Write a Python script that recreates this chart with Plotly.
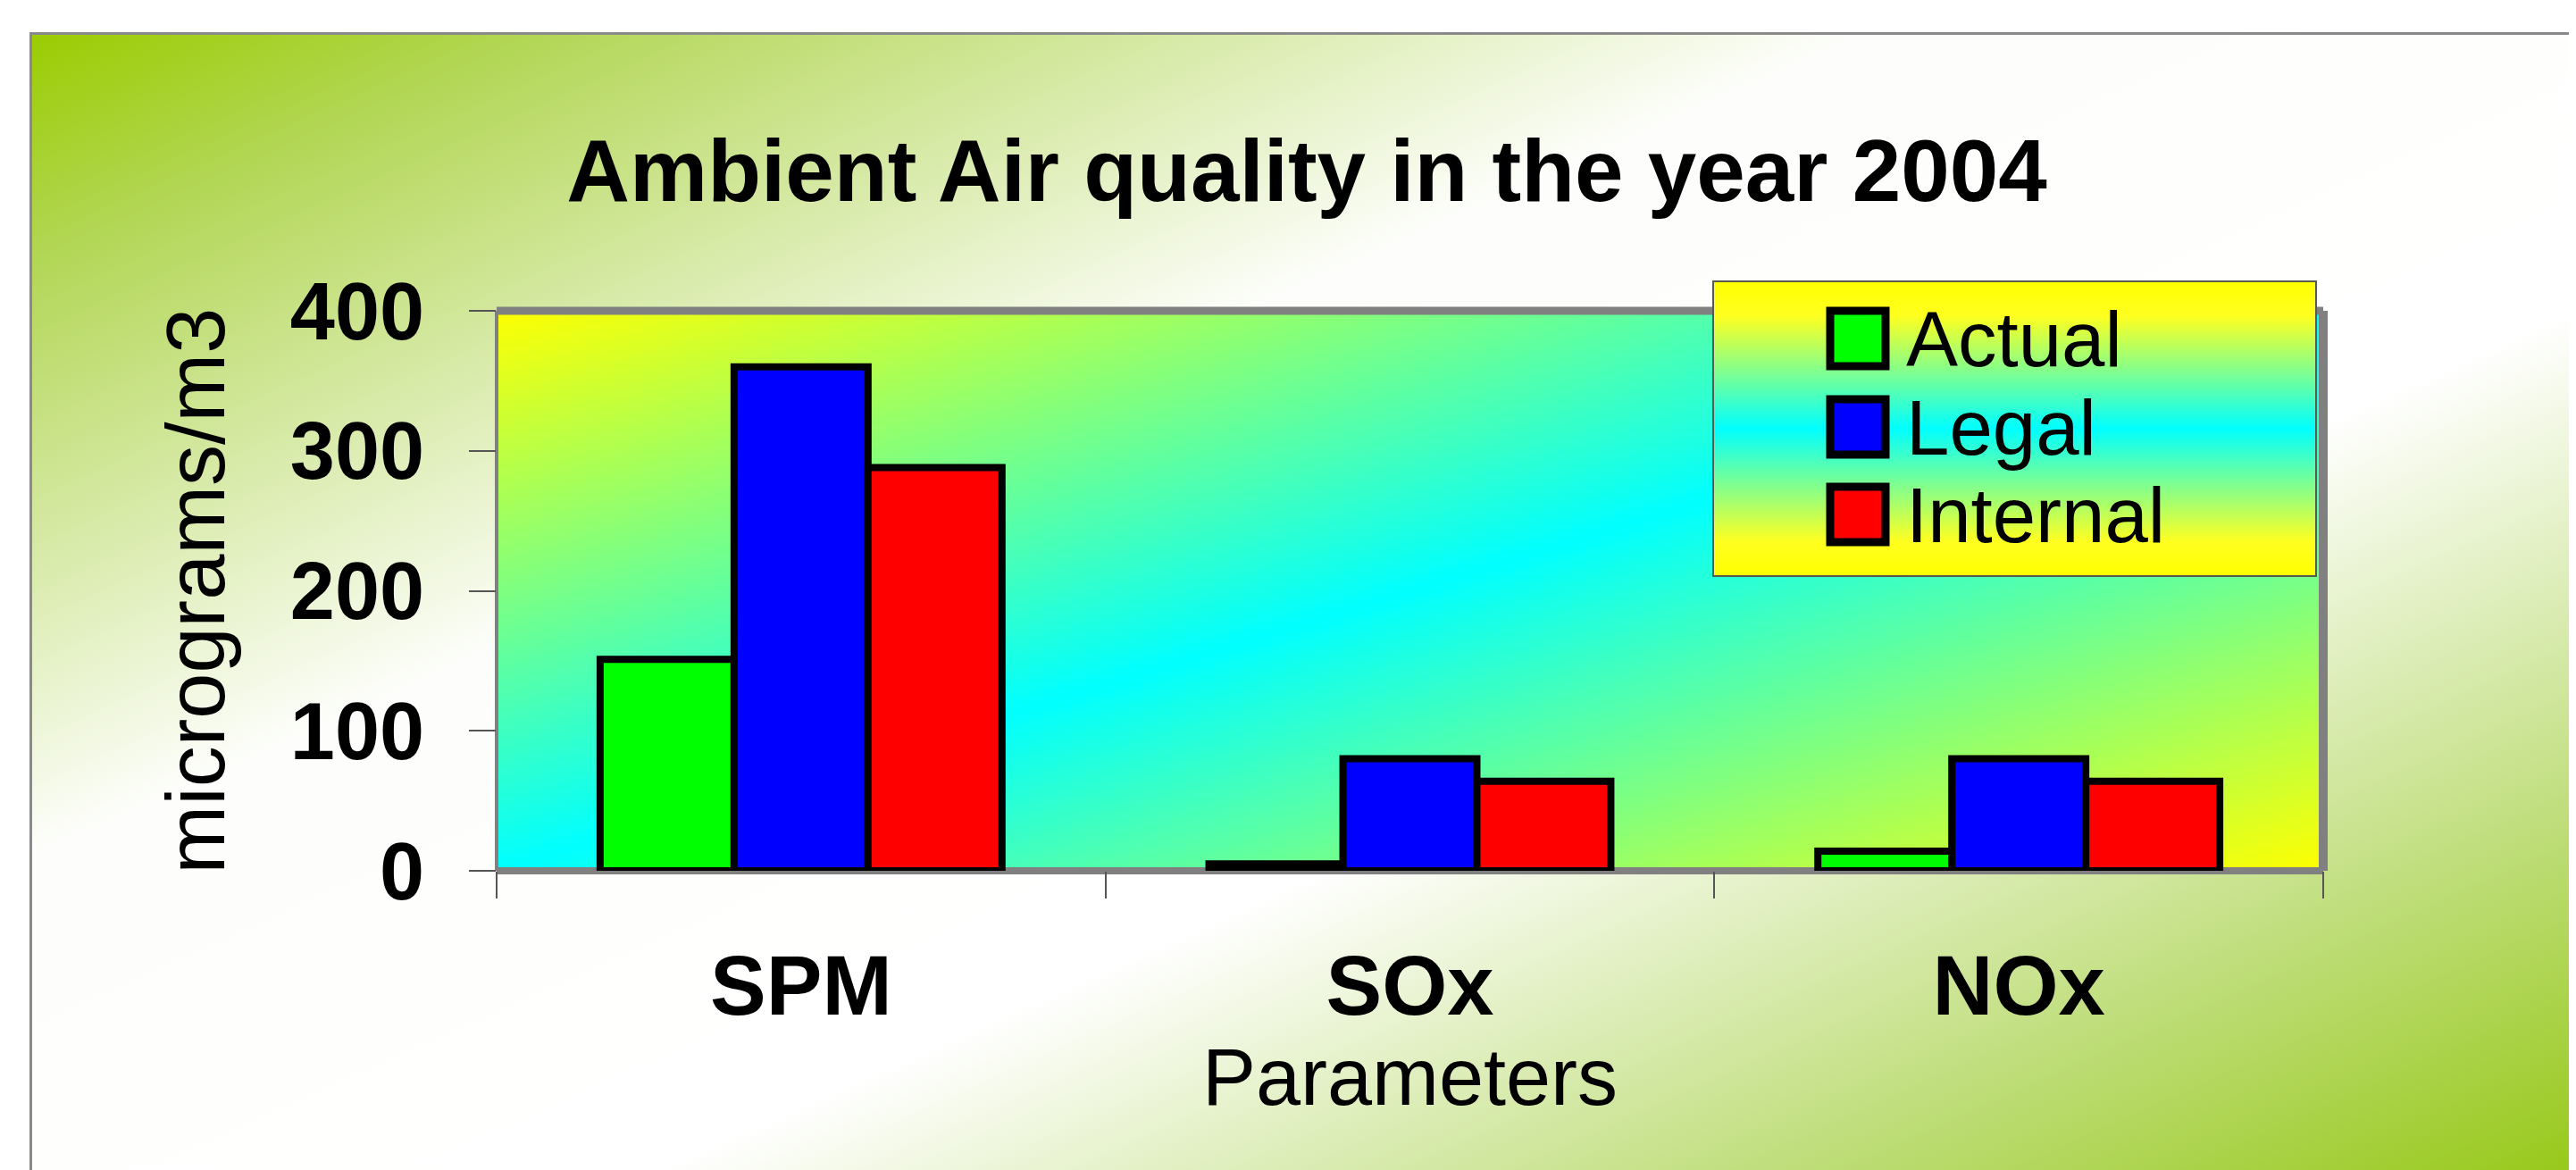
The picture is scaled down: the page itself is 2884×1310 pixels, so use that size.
import base64
import plotly.graph_objects as go

# ---------------- data ----------------
categories = ["SPM", "SOx", "NOx"]
series_names = ["Actual", "Legal", "Internal"]
actual = [151, 5, 14]
legal = [360, 80, 80]
internal = [288, 64, 64]
series_values = [actual, legal, internal]
series_colors = ["#00ff00", "#0000ff", "#ff0000"]
y_ticks = [0, 100, 200, 300, 400]
title_text = "Ambient Air quality in the year 2004"
x_title = "Parameters"
y_title = "micrograms/m3"

# ---------------- geometry (pixels) ----------------
W, H = 2884, 1310
L, R, T, B = 548, 2593, 340, 967  # plot area


def px_x(x):
    return (x - L) / (R - L)


def px_y(y):
    return (B - y) / (B - T)


def svg_uri(svg):
    return "data:image/svg+xml;base64," + base64.b64encode(svg.encode("utf-8")).decode()


FONT = "Arial, Liberation Sans, sans-serif"

# background of slide (frame)
FX0, FY0 = 25, 28
fw, fh = W - FX0, H - FY0
bg_svg = (
    f"<svg xmlns='http://www.w3.org/2000/svg' width='{fw}' height='{fh}' viewBox='0 0 {fw} {fh}' preserveAspectRatio='none'>"
    "<defs><linearGradient id='g' x1='0' y1='0' x2='1' y2='1'>"
    "<stop offset='0' stop-color='#9bcc00'/>"
    "<stop offset='0.1' stop-color='#b2d655'/>"
    "<stop offset='0.36' stop-color='#fdfefb'/>"
    "<stop offset='0.62' stop-color='#ffffff'/>"
    "<stop offset='0.85' stop-color='#bcdc74'/>"
    "<stop offset='1' stop-color='#97c818'/>"
    "</linearGradient></defs>"
    f"<rect x='0' y='0' width='{fw}' height='{fh}' fill='url(#g)'/>"
    f"<path d='M1.5,{fh} V1.5 H{fw}' stroke='#8a8a8a' stroke-width='3' fill='none'/>"
    "</svg>"
)

pw, ph = R - L, B - T
plot_svg = (
    f"<svg xmlns='http://www.w3.org/2000/svg' width='{pw}' height='{ph}' viewBox='0 0 {pw} {ph}' preserveAspectRatio='none'>"
    "<defs><linearGradient id='p' x1='0' y1='0' x2='1' y2='1'>"
    "<stop offset='0' stop-color='#ffff00'/>"
    "<stop offset='0.5' stop-color='#00ffff'/>"
    "<stop offset='1' stop-color='#ffff00'/>"
    "</linearGradient></defs>"
    f"<rect x='0' y='0' width='{pw}' height='{ph}' fill='url(#p)'/>"
    "</svg>"
)

LGX0, LGX1, LGY0, LGY1 = 1909, 2586, 306, 638
lw, lh = LGX1 - LGX0, LGY1 - LGY0
leg_svg = (
    f"<svg xmlns='http://www.w3.org/2000/svg' width='{lw}' height='{lh}' viewBox='0 0 {lw} {lh}' preserveAspectRatio='none'>"
    "<defs><linearGradient id='l' x1='0' y1='0' x2='0' y2='1'>"
    "<stop offset='0' stop-color='#ffff00'/>"
    "<stop offset='0.12' stop-color='#ffff20'/>"
    "<stop offset='0.5' stop-color='#00ffff'/>"
    "<stop offset='0.88' stop-color='#ffff20'/>"
    "<stop offset='1' stop-color='#ffff00'/>"
    "</linearGradient></defs>"
    f"<rect x='0' y='0' width='{lw}' height='{lh}' fill='url(#l)'/>"
    f"<rect x='1' y='1' width='{lw-2}' height='{lh-2}' fill='none' stroke='#5a5a4a' stroke-width='2'/>"
    "</svg>"
)

fig = go.Figure()
for name, vals, col in zip(series_names, series_values, series_colors):
    fig.add_trace(go.Bar(
        x=categories, y=vals, name=name,
        marker=dict(color=col, line=dict(color="black", width=8)),
        showlegend=False,
    ))

images = [
    dict(source=svg_uri(bg_svg), xref="paper", yref="paper",
         x=px_x(FX0), y=px_y(FY0), sizex=fw / pw, sizey=fh / ph,
         xanchor="left", yanchor="top", sizing="stretch", layer="below"),
    dict(source=svg_uri(plot_svg), xref="paper", yref="paper",
         x=0, y=1, sizex=1, sizey=1,
         xanchor="left", yanchor="top", sizing="stretch", layer="below"),
    dict(source=svg_uri(leg_svg), xref="paper", yref="paper",
         x=px_x(LGX0), y=px_y(LGY0), sizex=lw / pw, sizey=lh / ph,
         xanchor="left", yanchor="top", sizing="stretch", layer="above"),
]

border = "#808080"
shapes = [
    dict(type="line", xref="paper", yref="paper", x0=0, x1=1, y0=1, y1=1,
         line=dict(color=border, width=9), layer="below"),
    dict(type="line", xref="paper", yref="paper", x0=1, x1=1, y0=0, y1=1,
         line=dict(color=border, width=10), layer="below"),
    dict(type="line", xref="paper", yref="paper", x0=0, x1=1, y0=0, y1=0,
         line=dict(color=border, width=8), layer="below"),
    dict(type="line", xref="paper", yref="paper", x0=0, x1=0, y0=0, y1=1,
         line=dict(color=border, width=4), layer="below"),
]

# manual legend (swatches + labels)
sw_x0, sw_x1 = 2041, 2103
sw_centers = [371, 470, 568]
annotations = []
for name, col, cy in zip(series_names, series_colors, sw_centers):
    shapes.append(dict(type="rect", xref="paper", yref="paper",
                       x0=px_x(sw_x0), x1=px_x(sw_x1),
                       y0=px_y(cy + 31), y1=px_y(cy - 31),
                       fillcolor=col, line=dict(color="black", width=9), layer="above"))
    annotations.append(dict(text=name, xref="paper", yref="paper",
                            x=px_x(2124), y=px_y(cy), xanchor="left", yanchor="middle",
                            showarrow=False, font=dict(family=FONT, size=87, color="black")))

fig.update_layout(
    width=W, height=H,
    margin=dict(l=L, r=W - R, t=T, b=H - B, pad=0),
    paper_bgcolor="white",
    plot_bgcolor="rgba(0,0,0,0)",
    barmode="group", bargap=0.34, bargroupgap=0,
    title=dict(text=title_text, x=1455 / W, xref="container", xanchor="center",
               y=1 - 183 / H, yref="container", yanchor="middle",
               font=dict(family=FONT, size=98, color="black", weight="bold")),
    xaxis=dict(type="category", tickson="boundaries", ticks="outside", ticklen=30,
               tickwidth=2, tickcolor="#555555", showline=False, showgrid=False,
               tickfont=dict(family=FONT, size=94, color="black", weight="bold"),
               ticklabelstandoff=66,
               title=dict(text=x_title, standoff=2,
                          font=dict(family=FONT, size=90, color="black"))),
    yaxis=dict(range=[0, 400], tickvals=y_ticks, ticks="outside", ticklen=30,
               tickwidth=2, tickcolor="#555555", showline=False, showgrid=False,
               zeroline=False,
               tickfont=dict(family=FONT, size=90, color="black", weight="bold"),
               ticklabelstandoff=32,
               title=dict(text=y_title, standoff=42,
                          font=dict(family=FONT, size=92, color="black"))),
    images=images, shapes=shapes, annotations=annotations,
    showlegend=False,
)

fig.write_html("out.html")
